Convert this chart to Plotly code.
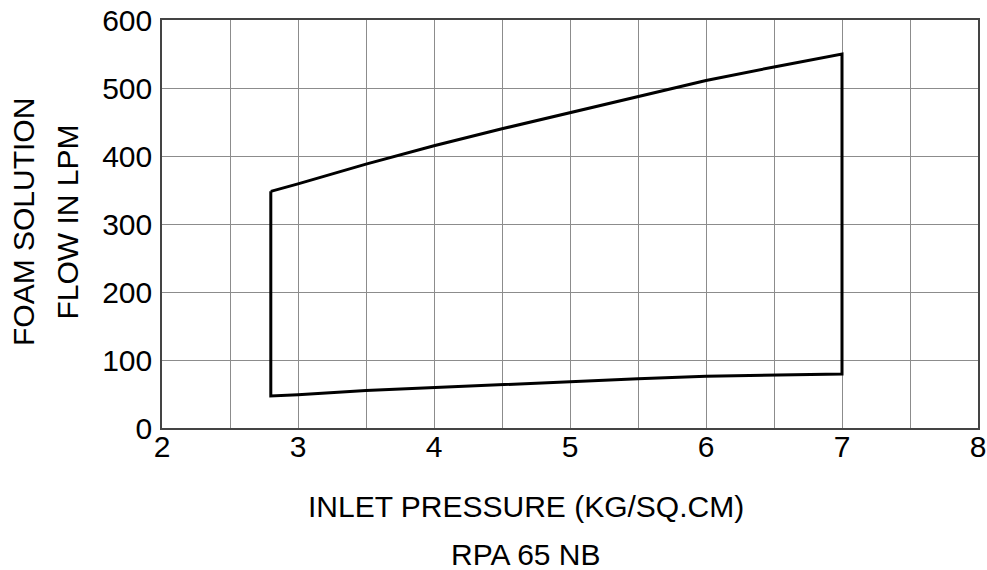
import plotly.graph_objects as go

# Upper boundary (max flow) vs inlet pressure
upper_x = [2.8, 3.0, 3.5, 4.0, 4.5, 5.0, 5.5, 6.0, 6.5, 7.0]
upper_y = [348, 359, 388, 415, 440, 464, 488, 511, 531, 550]
# Lower boundary (min flow) vs inlet pressure
lower_x = [2.8, 3.0, 3.5, 4.0, 4.5, 5.0, 5.5, 6.0, 6.5, 7.0]
lower_y = [47, 49, 55, 60, 64, 68, 72.5, 76, 78, 79.5]

x_ticks = [2, 3, 4, 5, 6, 7, 8]
y_ticks = [0, 100, 200, 300, 400, 500, 600]

# closed envelope: upper left->right, then lower right->left, close
px = upper_x + lower_x[::-1] + [upper_x[0]]
py = upper_y + lower_y[::-1] + [upper_y[0]]

FONT = "Liberation Sans, Arial, sans-serif"
FS = 30
L, T, PW, PH = 162, 20, 816, 408

fig = go.Figure()
fig.add_trace(go.Scatter(x=px, y=py, mode="lines",
                         line=dict(color="black", width=3),
                         showlegend=False, hoverinfo="skip"))

fig.update_layout(
    width=987, height=570,
    margin=dict(l=L, r=987 - L - PW, t=T, b=570 - T - PH),
    paper_bgcolor="white", plot_bgcolor="white",
    font=dict(family=FONT, size=FS, color="black"),
    xaxis=dict(range=[2, 8], tickvals=x_ticks, ticktext=[str(v) for v in x_ticks],
               showgrid=True, gridcolor="#8c8c8c", gridwidth=1.3,
               minor=dict(dtick=0.5, showgrid=True, gridcolor="#8c8c8c", gridwidth=1.3),
               showline=True, linecolor="#444", linewidth=1.5, mirror=True,
               zeroline=False, ticks="", tickfont=dict(size=FS), ticklabelstandoff=-9,
               automargin=False),
    yaxis=dict(range=[0, 600], tickvals=y_ticks, ticktext=[str(v) for v in y_ticks],
               showgrid=True, gridcolor="#8c8c8c", gridwidth=1.3,
               showline=True, linecolor="#444", linewidth=1.5, mirror=True,
               zeroline=False, ticks="", tickfont=dict(size=FS), ticklabelstandoff=2,
               automargin=False),
)

def px2x(p):
    return (p - L) / PW

def px2y(p):
    return (T + PH - p) / PH

fig.add_annotation(text="FOAM SOLUTION", xref="paper", yref="paper",
                   x=px2x(23.5), y=px2y(222.5), textangle=-90, showarrow=False,
                   xanchor="center", yanchor="middle", font=dict(size=FS, family=FONT))
fig.add_annotation(text="FLOW IN LPM", xref="paper", yref="paper",
                   x=px2x(67), y=px2y(222.5), textangle=-90, showarrow=False,
                   xanchor="center", yanchor="middle", font=dict(size=FS, family=FONT))
fig.add_annotation(text="INLET PRESSURE (KG/SQ.CM)", xref="paper", yref="paper",
                   x=px2x(525.5), y=px2y(506), showarrow=False,
                   xanchor="center", yanchor="middle", font=dict(size=FS, family=FONT))
fig.add_annotation(text="RPA 65 NB", xref="paper", yref="paper",
                   x=px2x(525.5), y=px2y(554), showarrow=False,
                   xanchor="center", yanchor="middle", font=dict(size=FS, family=FONT))

fig.write_html("out.html", config={"displayModeBar": False},
               post_script="document.body.style.margin='0';document.body.style.padding='0';")
